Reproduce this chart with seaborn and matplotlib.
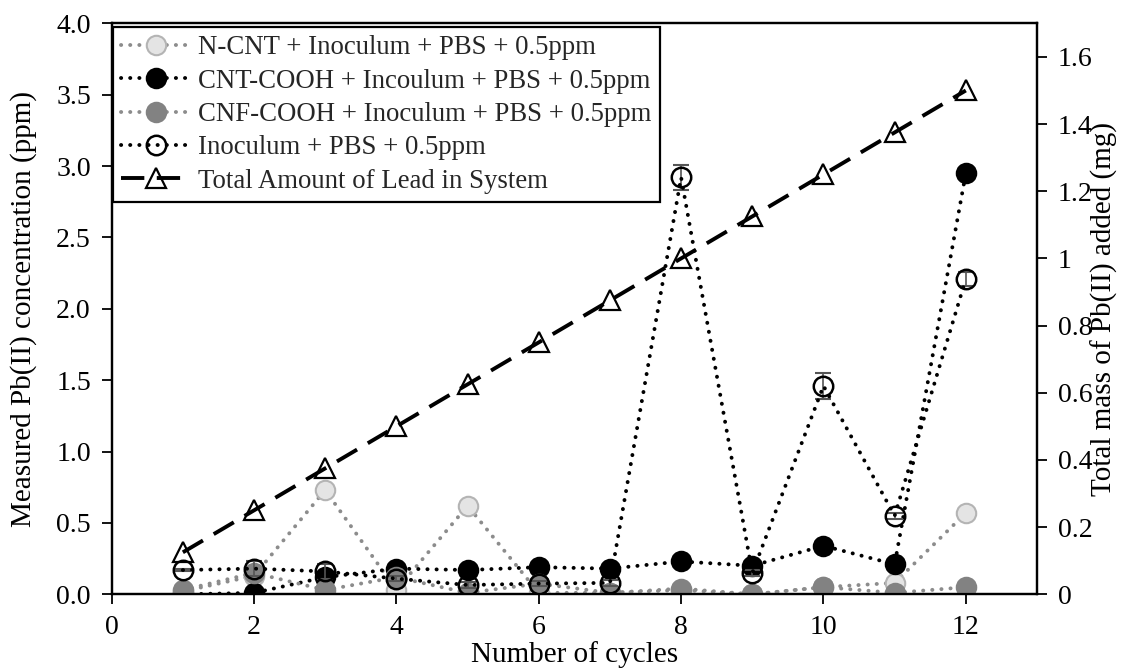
import matplotlib
matplotlib.use("Agg")
import matplotlib.pyplot as plt
import seaborn as sns
import numpy as np
import pandas as pd

# ---- data ----
cycles = [1, 2, 3, 4, 5, 6, 7, 8, 9, 10, 11, 12]
n_cnt = [0.02, 0.13, 0.73, 0.03, 0.62, 0.01, 0.01, 0.03, 0.00, 0.05, 0.08, 0.57]
cnt_cooh = [0.00, 0.01, 0.12, 0.18, 0.17, 0.19, 0.18, 0.23, 0.20, 0.34, 0.21, 2.95]
cnf_cooh = [0.03, 0.15, 0.03, 0.12, 0.01, 0.075, 0.01, 0.04, 0.00, 0.05, 0.01, 0.05]
inoculum = [0.17, 0.18, 0.16, 0.11, 0.065, 0.075, 0.08, 2.92, 0.15, 1.46, 0.55, 2.21]
inoculum_err = [0.01, 0.05, 0.05, 0.02, 0.02, 0.02, 0.02, 0.09, 0.02, 0.09, 0.02, 0.05]
total_lead = [0.125, 0.25, 0.375, 0.5, 0.625, 0.75, 0.875, 1.0, 1.125, 1.25, 1.375, 1.5]

labels = ["N-CNT + Inoculum + PBS + 0.5ppm",
          "CNT-COOH + Incoulum + PBS + 0.5ppm",
          "CNF-COOH + Inoculum + PBS + 0.5ppm",
          "Inoculum + PBS + 0.5ppm",
          "Total Amount of Lead in System"]
x_ticks = [0, 2, 4, 6, 8, 10, 12]
left_ticks = [0.0, 0.5, 1.0, 1.5, 2.0, 2.5, 3.0, 3.5, 4.0]
right_ticks = [0, 0.2, 0.4, 0.6, 0.8, 1.0, 1.2, 1.4, 1.6]
right_tick_labels = ["0", "0.2", "0.4", "0.6", "0.8", "1", "1.2", "1.4", "1.6"]

sns.set_theme(style="white")
plt.rcParams['font.family'] = ['Liberation Serif', 'DejaVu Serif']

W, H = 1129, 671
fig = plt.figure(figsize=(W / 100, H / 100), dpi=100)
L, R, T, B = 111.7, 1037, 23.3, 594.3
ax = fig.add_axes([L / W, 1 - B / H, (R - L) / W, (B - T) / H])
ax2 = ax.twinx()

dot = (0, (0.05, 2.3))
lw = 2.8
ms = 14

df = pd.DataFrame({"cycle": cycles, "n": n_cnt, "cnt": cnt_cooh, "cnf": cnf_cooh,
                   "ino": inoculum, "tot": total_lead})

common = dict(linewidth=lw, linestyle=dot, dash_capstyle="round", marker="o",
              markersize=ms)
sns.lineplot(data=df, x="cycle", y="n", ax=ax, color="#8c8c8c", markerfacecolor="#e4e4e4",
             markeredgecolor="#b4b4b4", markeredgewidth=1.5, label=labels[0], zorder=3,
             **common)
sns.lineplot(data=df, x="cycle", y="cnt", ax=ax, color="black", markerfacecolor="black",
             markeredgecolor="black", markeredgewidth=1.5, label=labels[1], zorder=4,
             **common)
sns.lineplot(data=df, x="cycle", y="cnf", ax=ax, color="#8c8c8c", markerfacecolor="#828282",
             markeredgecolor="#828282", markeredgewidth=1.5, label=labels[2], zorder=5,
             **common)
ax.errorbar(cycles, inoculum, yerr=inoculum_err, fmt="none", ecolor="#555555",
            elinewidth=1.2, capsize=6, capthick=1.5, zorder=6)
sns.lineplot(data=df, x="cycle", y="ino", ax=ax, color="black", markerfacecolor="none",
             markeredgecolor="black", markeredgewidth=1.8, label=labels[3], zorder=7,
             **common)
sns.lineplot(data=df, x="cycle", y="tot", ax=ax2, color="black", linewidth=2.8,
             linestyle=(0, (6, 3.2)), marker="^", markersize=15, markerfacecolor="none",
             markeredgecolor="black", markeredgewidth=1.6, label=labels[4], zorder=8,
             legend=False)

ax.set_xlim(0, 13)
ax.set_ylim(0, 4.0)
ax2.set_ylim(0, 1.7)
ax.set_xticks(x_ticks)
ax.set_xticklabels([str(t) for t in x_ticks])
ax.set_yticks(left_ticks)
ax.set_yticklabels([f"{t:.1f}" for t in left_ticks])
ax2.set_yticks(right_ticks)
ax2.set_yticklabels(right_tick_labels)

fs = 20
for a in (ax, ax2):
    a.tick_params(axis="both", which="major", direction="out", length=7, width=1.3,
                  labelsize=fs, colors="black", pad=8)
    for s in a.spines.values():
        s.set_color("black")
        s.set_linewidth(1.6)
ax.tick_params(axis="y", left=True)
ax.tick_params(axis="x", bottom=True)
ax2.tick_params(axis="y", right=True)

ax.set_xlabel("Number of cycles", fontsize=21, color="black", labelpad=1)
ax.set_ylabel("Measured Pb(II) concentration (ppm)", fontsize=21, color="black")
ax.yaxis.set_label_coords((24 - L) / (R - L), 0.5)
ax.yaxis.label.set_verticalalignment("center")
ax2.set_ylabel("Total mass of Pb(II) added (mg)", fontsize=21, color="black")
ax2.yaxis.set_label_coords((1104 - L) / (R - L), 0.5)
ax2.yaxis.label.set_verticalalignment("center")

h1, l1 = ax.get_legend_handles_labels()
h2, l2 = ax2.get_legend_handles_labels()
if ax.get_legend() is not None:
    ax.get_legend().remove()
leg = ax.legend(h1 + h2, l1 + l2, loc="upper left", bbox_to_anchor=(0.001, 1 - 4 / (B - T)),
                borderaxespad=0, fontsize=19.3, frameon=True, fancybox=False,
                framealpha=1, edgecolor="black", handlelength=2.6, handletextpad=0.3,
                labelspacing=0.31, borderpad=0.3, numpoints=1)
leg.get_frame().set_linewidth(1.6)
leg.set_zorder(20)

fig.savefig("out.png", dpi=100)
